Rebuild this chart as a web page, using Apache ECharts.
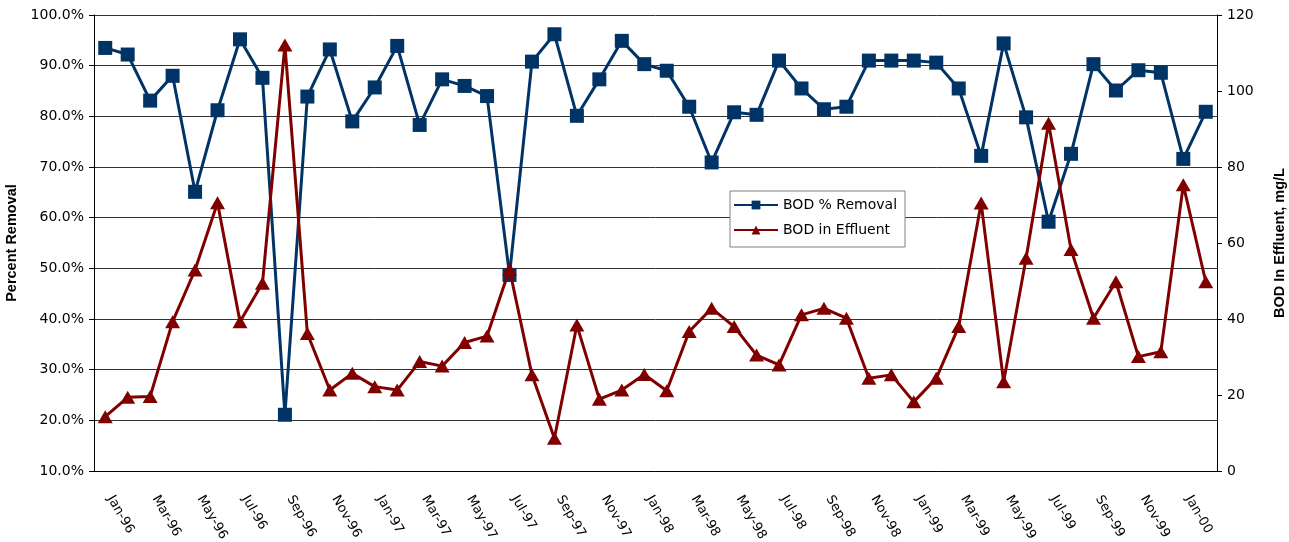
<!DOCTYPE html>
<html>
<head>
<meta charset="utf-8">
<title>BOD Removal and Effluent BOD, 1996-2000</title>
<script src="https://cdn.jsdelivr.net/npm/echarts@6/dist/echarts.min.js"></script>
<style>
  html, body { margin: 0; padding: 0; background: #ffffff; }
  #chart { width: 1289px; height: 542px; }
</style>
</head>
<body>
<div id="chart"></div>
<script>
// Monthly sampling, Jan-96 through Feb-00
const months = [
  'Jan-96','Feb-96','Mar-96','Apr-96','May-96','Jun-96','Jul-96','Aug-96','Sep-96','Oct-96','Nov-96','Dec-96',
  'Jan-97','Feb-97','Mar-97','Apr-97','May-97','Jun-97','Jul-97','Aug-97','Sep-97','Oct-97','Nov-97','Dec-97',
  'Jan-98','Feb-98','Mar-98','Apr-98','May-98','Jun-98','Jul-98','Aug-98','Sep-98','Oct-98','Nov-98','Dec-98',
  'Jan-99','Feb-99','Mar-99','Apr-99','May-99','Jun-99','Jul-99','Aug-99','Sep-99','Oct-99','Nov-99','Dec-99',
  'Jan-00','Feb-00'
];

// BOD % removal (left axis, percent)
const bodRemoval = [
  93.5, 92.2, 83.1, 88.0, 65.1, 81.2, 95.2, 87.6, 21.1, 83.9, 93.2, 79.0,
  85.7, 93.9, 78.3, 87.3, 86.0, 84.0, 48.7, 90.8, 96.2, 80.1, 87.3, 94.9,
  90.3, 89.0, 81.9, 70.9, 80.8, 80.3, 91.0, 85.5, 81.4, 81.9, 91.0, 91.0,
  91.0, 90.6, 85.5, 72.2, 94.4, 79.8, 59.2, 72.6, 90.3, 85.1, 89.1, 88.6,
  71.6, 80.9
];

// BOD in effluent (right axis, mg/L)
const bodEffluent = [
  14.3, 19.4, 19.6, 39.3, 52.9, 70.6, 39.3, 49.4, 112.1, 36.2, 21.3, 25.7,
  22.2, 21.3, 28.8, 27.6, 33.8, 35.5, 53.1, 25.3, 8.6, 38.4, 18.9, 21.3,
  25.4, 21.1, 36.7, 42.8, 38.0, 30.5, 27.9, 41.1, 42.8, 40.2, 24.4, 25.3,
  18.2, 24.4, 38.0, 70.5, 23.5, 56.0, 91.5, 58.3, 40.2, 49.8, 30.1, 31.4,
  75.3, 49.8
];

const FONT = 'DejaVu Sans';
const TITLE_FONT = 'Liberation Sans';
const BLUE = '#003366';
const RED = '#800000';

const chart = echarts.init(document.getElementById('chart'), null, { renderer: 'canvas' });

chart.setOption({
  animation: false,
  backgroundColor: '#ffffff',
  textStyle: { fontFamily: FONT, color: '#000' },
  grid: { left: 94, right: 72, top: 15, bottom: 71, containLabel: false, outerBoundsMode: 'none' },
  legend: {
    orient: 'vertical',
    left: 730,
    top: 191,
    data: ['BOD % Removal', 'BOD in Effluent'],
    backgroundColor: '#ffffff',
    borderColor: '#808080',
    borderWidth: 1,
    padding: [7, 8, 10, 3],
    itemGap: 11,
    itemWidth: 44,
    itemHeight: 11,
    textStyle: { fontFamily: FONT, fontSize: 14, color: '#000' }
  },
  xAxis: {
    type: 'category',
    data: months,
    boundaryGap: true,
    axisLine: { lineStyle: { color: '#000', width: 1 } },
    axisTick: { interval: 1, length: 5, lineStyle: { color: '#000' } },
    axisLabel: {
      interval: 1,
      rotate: -60,
      margin: 17,
      padding: [0, 0, 0, 10],
      fontFamily: FONT,
      fontSize: 13,
      color: '#000'
    },
    splitLine: { show: false }
  },
  yAxis: [
    {
      type: 'value',
      min: 10,
      max: 100,
      interval: 10,
      name: 'Percent Removal',
      nameLocation: 'middle',
      nameGap: 67,
      nameTextStyle: { fontFamily: TITLE_FONT, fontSize: 14.5, fontWeight: 'bold', color: '#000' },
      axisLine: { show: true, lineStyle: { color: '#000', width: 1 } },
      axisTick: { show: true, length: 5, lineStyle: { color: '#000' } },
      axisLabel: {
        margin: 10,
        fontFamily: FONT,
        fontSize: 14,
        color: '#000',
        formatter: v => v.toFixed(1) + '%'
      },
      splitLine: { show: true, lineStyle: { color: '#333', width: 1 } }
    },
    {
      type: 'value',
      min: 0,
      max: 120,
      interval: 20,
      position: 'right',
      name: 'BOD In Effluent, mg/L',
      nameLocation: 'middle',
      nameGap: 55,
      nameRotate: 90,
      nameTextStyle: { fontFamily: TITLE_FONT, fontSize: 14.5, fontWeight: 'bold', color: '#000' },
      axisLine: { show: true, lineStyle: { color: '#000', width: 1 } },
      axisTick: { show: true, length: 5, lineStyle: { color: '#000' } },
      axisLabel: { margin: 10, fontFamily: FONT, fontSize: 14, color: '#000' },
      splitLine: { show: false }
    }
  ],
  series: [
    {
      name: 'BOD % Removal',
      type: 'line',
      yAxisIndex: 0,
      data: bodRemoval,
      symbol: 'rect',
      symbolSize: 14,
      showAllSymbol: true,
      lineStyle: { color: BLUE, width: 3 },
      itemStyle: { color: BLUE, borderWidth: 0 },
      z: 3
    },
    {
      name: 'BOD in Effluent',
      type: 'line',
      yAxisIndex: 1,
      data: bodEffluent,
      symbol: 'triangle',
      symbolSize: [15, 13],
      showAllSymbol: true,
      lineStyle: { color: RED, width: 3 },
      itemStyle: { color: RED, borderWidth: 0 },
      z: 4
    }
  ]
});
</script>
</body>
</html>
